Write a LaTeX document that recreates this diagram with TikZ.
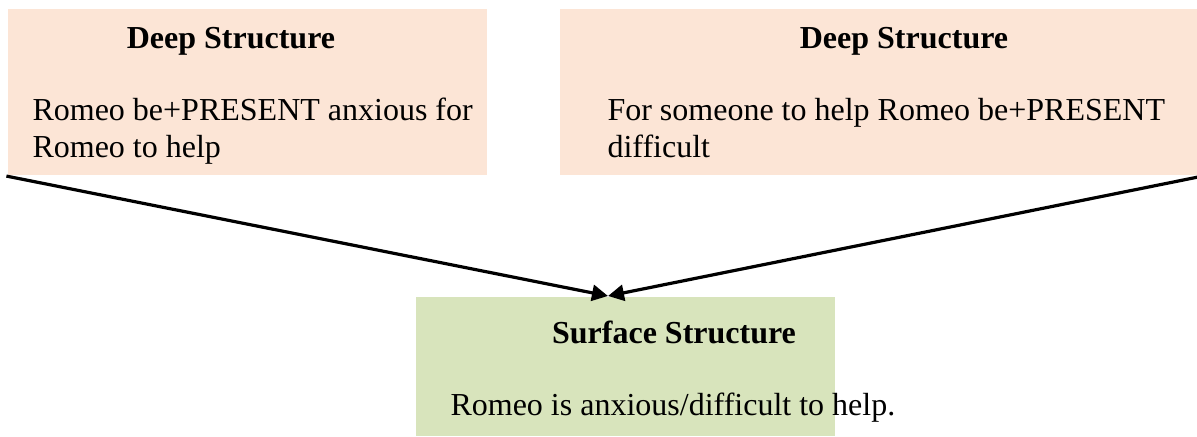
\documentclass[tikz,border=0pt]{standalone}
\usepackage{fontspec}
\setmainfont{Liberation Serif}
\usetikzlibrary{arrows.meta}
\definecolor{peach}{RGB}{252,229,214}
\definecolor{sage}{RGB}{216,228,188}
\begin{document}
\begin{tikzpicture}[x=0.375pt, y=-0.375pt,
    deepbox/.style={rectangle, fill=peach, inner sep=0pt},
    surfbox/.style={rectangle, fill=sage, inner sep=0pt},
    title/.style={anchor=base, font=\fontsize{12}{13.875}\selectfont\bfseries, inner sep=0pt},
    body/.style={anchor=base west, font=\fontsize{12}{13.875}\selectfont, inner sep=0pt}]
    \useasboundingbox (0,0) rectangle (1197,436);
    % Draw boxes
    \node [deepbox, minimum width=179.625pt, minimum height=62.25pt] (ldeep) at (247.5, 92) {};
    \node [deepbox, minimum width=238.875pt, minimum height=62.25pt] (rdeep) at (878.5, 92) {};
    \node [surfbox, minimum width=157.125pt, minimum height=52.125pt] (surf) at (625.5, 366.5) {};
    % Texts
    \node [title] (lttl) at (231, 48) {Deep Structure};
    \node [body] (ltxta) at (32, 120) {Romeo be+PRESENT anxious for};
    \node [body] (ltxtb) at (32, 157) {Romeo to help};
    \node [title] (rttl) at (904, 48) {Deep Structure};
    \node [body] (rtxta) at (607, 120) {For someone to help Romeo be+PRESENT};
    \node [body] (rtxtb) at (607, 157) {difficult};
    \node [title] (sttl) at (674, 343) {Surface Structure};
    \node [body] (stxt) at (450, 415) {Romeo is anxious/difficult to help.};
    % Draw arrows
    \coordinate (meet) at (608, 296);
    \draw [-{Triangle[length=6pt, width=6pt]}, line width=1.2pt] ([xshift=-0.4pt, yshift=-0.2pt]ldeep.south west) -- (meet);
    \draw [-{Triangle[length=6pt, width=6pt]}, line width=1.2pt] ([yshift=-0.6pt]rdeep.south east) -- (meet);
\end{tikzpicture}
\end{document}
